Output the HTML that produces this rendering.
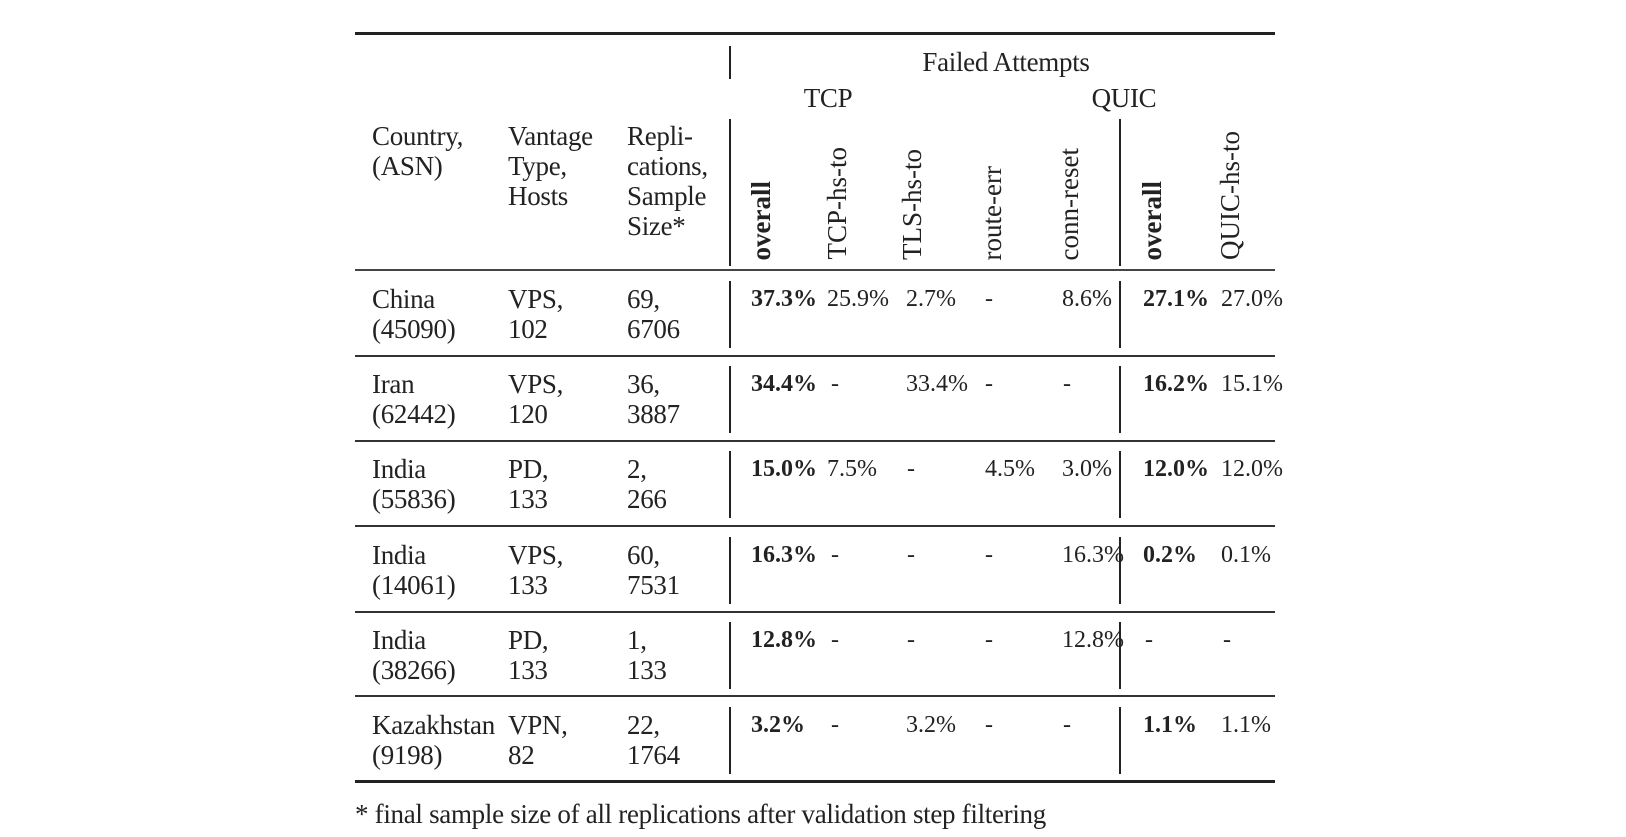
<!DOCTYPE html>
<html><head><meta charset="utf-8"><style>
html,body{margin:0;padding:0;background:#fff;}
#c{position:relative;width:1626px;height:837px;overflow:hidden;font-family:"Liberation Serif",serif;font-size:24px;color:#222;}
.t{position:absolute;white-space:nowrap;line-height:30px;}
.w{font-size:27px;letter-spacing:-0.3px;}
.b{font-weight:bold;}
.h{position:absolute;background:#222;}
.r{position:absolute;bottom:577px;writing-mode:vertical-rl;transform:rotate(180deg);white-space:nowrap;line-height:26px;font-size:27px;}
</style></head><body><div id="c">
<div class="h" style="left:355px;top:32px;width:920px;height:3px"></div>
<div class="h" style="left:355px;top:269px;width:920px;height:2px;background:#444"></div>
<div class="h" style="left:355px;top:355px;width:920px;height:2px;background:#333"></div>
<div class="h" style="left:355px;top:440px;width:920px;height:2px;background:#333"></div>
<div class="h" style="left:355px;top:525px;width:920px;height:2px;background:#333"></div>
<div class="h" style="left:355px;top:611px;width:920px;height:2px;background:#333"></div>
<div class="h" style="left:355px;top:695px;width:920px;height:2px;background:#333"></div>
<div class="h" style="left:355px;top:780px;width:920px;height:3px"></div>

<div class="h" style="left:729px;top:46px;width:1.5px;height:33px"></div>
<div class="h" style="left:729px;top:119px;width:1.5px;height:147px"></div>
<div class="h" style="left:1119px;top:119px;width:1.5px;height:147px"></div>

<div class="t w" style="left:1006px;top:47px;transform:translateX(-50%)">Failed Attempts</div>
<div class="t w" style="left:828px;top:83px;transform:translateX(-50%)">TCP</div>
<div class="t w" style="left:1124px;top:83px;transform:translateX(-50%)">QUIC</div>

<div class="t w" style="left:372px;top:121px">Country,<br>(ASN)</div>
<div class="t w" style="left:508px;top:121px">Vantage<br>Type,<br>Hosts</div>
<div class="t w" style="left:627px;top:121px">Repli-<br>cations,<br>Sample<br>Size*</div>

<div class="r b" style="left:748px">overall</div>
<div class="r" style="left:824px">TCP-hs-to</div>
<div class="r" style="left:899px">TLS-hs-to</div>
<div class="r" style="left:979px">route-err</div>
<div class="r" style="left:1056px">conn-reset</div>
<div class="r b" style="left:1139px">overall</div>
<div class="r" style="left:1217px">QUIC-hs-to</div>

<div id="rows"></div>
<script>
var rows=[
["China","(45090)","VPS,","102","69,","6706","37.3%","25.9%","2.7%","-","8.6%","27.1%","27.0%"],
["Iran","(62442)","VPS,","120","36,","3887","34.4%","-","33.4%","-","-","16.2%","15.1%"],
["India","(55836)","PD,","133","2,","266","15.0%","7.5%","-","4.5%","3.0%","12.0%","12.0%"],
["India","(14061)","VPS,","133","60,","7531","16.3%","-","-","-","16.3%","0.2%","0.1%"],
["India","(38266)","PD,","133","1,","133","12.8%","-","-","-","12.8%","-","-"],
["Kazakhstan","(9198)","VPN,","82","22,","1764","3.2%","-","3.2%","-","-","1.1%","1.1%"]];
var xs=[751,827,906,985,1062,1143,1221];
var dx=[751,831,907,985,1063,1145,1223];
var h='';
rows.forEach(function(r,i){
 var top=284+i*85.2;
 h+='<div class="t w" style="left:372px;top:'+top+'px">'+r[0]+'<br>'+r[1]+'</div>';
 h+='<div class="t w" style="left:508px;top:'+top+'px">'+r[2]+'<br>'+r[3]+'</div>';
 h+='<div class="t w" style="left:627px;top:'+top+'px">'+r[4]+'<br>'+r[5]+'</div>';
 for(var j=0;j<7;j++){
  var v=r[6+j];var bold=(j==0||j==5)&&v!='-';
  h+='<div class="t'+(bold?' b':'')+'" style="left:'+(v=='-'?dx[j]:xs[j])+'px;top:'+top+'px">'+v+'</div>';
 }
 var lt=270+i*85.2+11;
 h+='<div class="h" style="left:729px;top:'+lt+'px;width:1.5px;height:67px"></div>';
 h+='<div class="h" style="left:1119px;top:'+lt+'px;width:1.5px;height:67px"></div>';
});
document.getElementById('rows').innerHTML=h;
</script>
<div class="t w" style="left:355px;top:799px">* final sample size of all replications after validation step filtering</div>
</div></body></html>
